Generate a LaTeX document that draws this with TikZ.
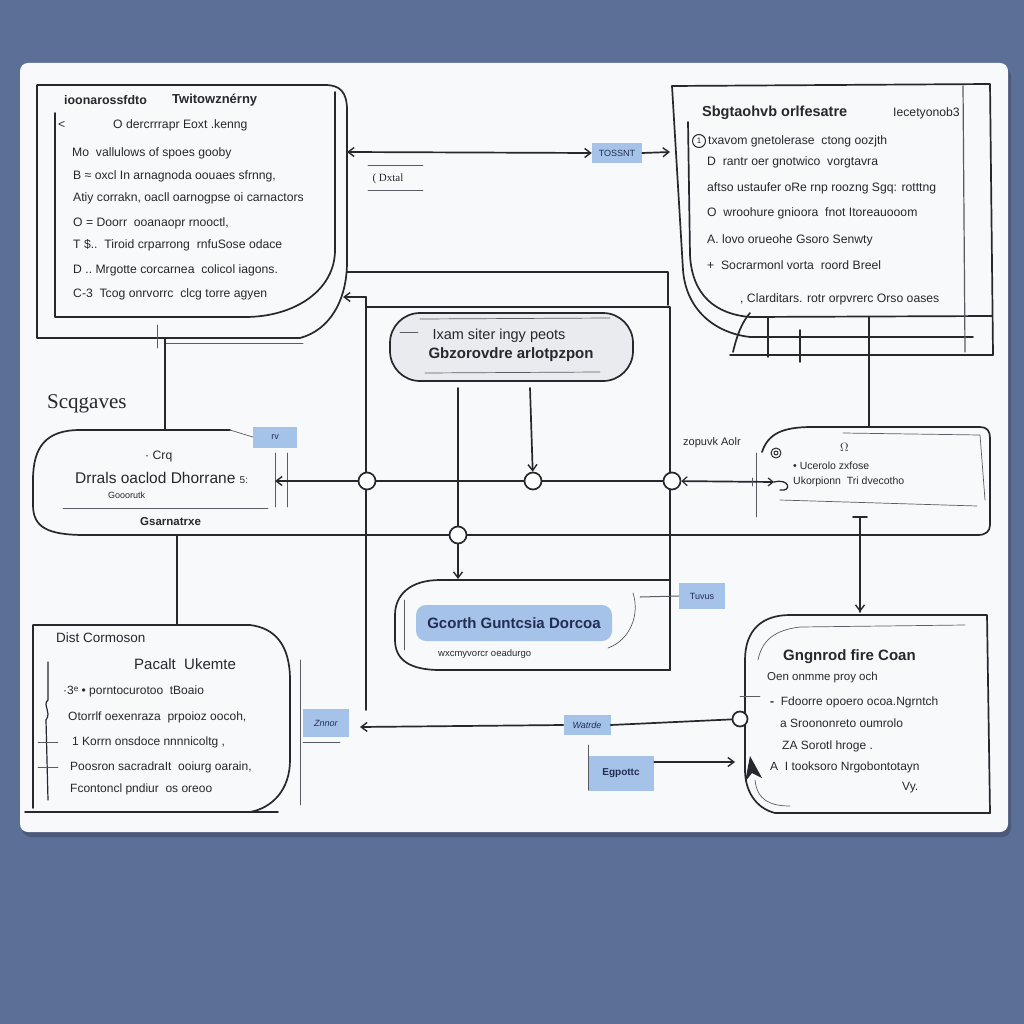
\documentclass[tikz,border=0pt]{standalone}
\usepackage{fontspec}
\setmainfont{Liberation Sans}
\newfontfamily\serifx{Liberation Serif}
\usetikzlibrary{arrows.meta}
\definecolor{bgblue}{RGB}{92,111,150}
\definecolor{paper}{RGB}{248,249,251}
\definecolor{ink}{RGB}{38,40,46}
\definecolor{inkg}{RGB}{90,92,100}
\definecolor{tagblue}{RGB}{165,194,233}
\definecolor{pillg}{RGB}{234,235,238}
\definecolor{navy}{RGB}{35,45,80}
\tikzset{
  ln/.style={draw=ink,line width=1.7pt,line cap=round,line join=round},
  thn/.style={draw=inkg,line width=0.7pt,line cap=round},
  arr/.style={-{Straight Barb[length=6pt,width=9pt,line width=1.4pt]}},
  body/.style={anchor=west,inner sep=0pt,text=ink,font=\fontsize{12.2}{14}\selectfont},
  small/.style={anchor=west,inner sep=0pt,text=ink,font=\fontsize{10}{12}\selectfont},
  ttl/.style={anchor=west,inner sep=0pt,text=ink,font=\fontsize{13}{15}\selectfont\bfseries},
  tagbox/.style={fill=tagblue,inner sep=0pt,text=navy,font=\fontsize{9}{10}\selectfont},
  junc/.style={circle,draw=ink,line width=1.7pt,fill=white,minimum size=17pt,inner sep=0pt},
}
\begin{document}
\begin{tikzpicture}[x=1pt,y=-1pt]
\useasboundingbox (0,0) rectangle (1024,1024);
\fill[bgblue] (0,0) rectangle (1024,1024);
\fill[black,opacity=0.18,rounded corners=9pt] (22,67) rectangle (1011,837);
\fill[paper,rounded corners=8pt] (20,63) rectangle (1008,832);

% ---------- top-left box ----------
\draw[ln] (37,85) -- (325,85) .. controls (340,85) and (347,92) .. (347,110) -- (347,262)
   .. controls (347,300) and (330,330) .. (300,338) -- (37,338) -- cycle;
\draw[ln] (55,113) -- (55,317) -- (245,317) .. controls (295,317) and (335,290) .. (335,250) -- (335,92);
\draw[thn] (157,325) -- (157,348);
\draw[thn] (165,343) -- (303,343);
\node[ttl,font=\fontsize{12.4}{14}\selectfont\bfseries] (tlA) at (64,100) {ioonarossfdto};
\node[ttl,font=\fontsize{13}{15}\selectfont\bfseries] (tlB) at (172,100) {Twitowznérny};
\node[body] (tl0) at (58,125) {<};
\node[body] (tl1) at (113,125) {O dercrrrapr Eoxt .kenng};
\node[body] (tl2) at (72,153) {Mo\ \ vallulows of spoes gooby};
\node[body] (tl3) at (73,176) {B ≈ oxcl In arnagnoda oouaes sfrnng,};
\node[body] (tl4) at (73,198) {Atiy corrakn, oacll oarnogpse oi carnactors};
\node[body] (tl5) at (73,223) {O = Doorr\ \ ooanaopr rnooctl,};
\node[body] (tl6) at (73,245) {T \$..\ \ Tiroid crparrong\ \ rnfuSose odace};
\node[body] (tl7) at (73,270) {D ..\ Mrgotte corcarnea\ \ colicol iagons.};
\node[body] (tl8) at (73,294) {C-3\ \ Tcog onrvorrc\ \ clcg torre agyen};

% ---------- top-right box ----------
\draw[ln] (672,86) -- (990,84) -- (993,355) -- (730,355);
\draw[ln] (672,86) -- (683,270) .. controls (686,310) and (715,333) .. (750,337) -- (973,337);
\draw[ln] (688,122) -- (690,255) .. controls (692,295) and (715,314) .. (750,317) -- (992,316);
\draw[thn,line width=1.2pt] (963,86) -- (965,352);
\draw[ln] (768,317) -- (768,357);
\draw[ln] (800,330) -- (800,362);
\draw[ln] (733,352) .. controls (737,335) and (742,322) .. (750,313);
\node[ttl,font=\fontsize{14.5}{16}\selectfont\bfseries] (trA) at (702,113) {Sbgtaohvb orlfesatre};
\node[body] (trB) at (893,113) {Iecetyonob3};
\node[circle,draw=ink,line width=1pt,minimum size=13pt,inner sep=0pt,font=\fontsize{8}{9}\selectfont,text=ink] (tr1c) at (699,141) {1};
\node[body] (tr1) at (708,141) {txavom gnetolerase\ \ ctong oozjth};
\node[body] (tr2) at (707,162) {D\ \ rantr oer gnotwico\ \ vorgtavra};
\node[body] (tr3) at (707,188) {aftso ustaufer oRe rnp roozng Sgq: rotttng};
\node[body] (tr4) at (707,213) {O\ \ wroohure gnioora\ \ fnot Itoreauooom};
\node[body] (tr5) at (707,240) {A. lovo orueohe Gsoro Senwty};
\node[body] (tr6) at (707,265) {+\ \ Socrarmonl vorta\ \ roord Breel};
\node[body] (tr7) at (740,299) {, Clarditars. rotr orpvrerc Orso oases};

% ---------- top connectors ----------
\coordinate (tlR) at (347,152);
\node[tagbox,minimum width=50pt,minimum height=20pt] (tagT) at (617,153) {TOSSNT};
\coordinate (trL) at (670,152);
\draw[ln,{Straight Barb[length=6pt,width=9pt,line width=1.4pt]}-{Straight Barb[length=6pt,width=9pt,line width=1.4pt]}] (tlR) -- (tagT.west);
\draw[ln,arr] (tagT.east) -- (trL);
\node[inner sep=0pt,text=ink,font=\serifx\fontsize{11}{13}\selectfont] (dxtal) at (388,179) {( D\textsc{xtal}};
\draw[thn] (368,165) -- (423,165);
\draw[thn] (368,190) -- (423,190);

\coordinate (tlR2) at (347,272);
\coordinate (midTR) at (668,272);
\draw[ln] (tlR2) -- (midTR) -- (668,305);

% ---------- center pill ----------
\draw[ln,fill=pillg,rounded corners=30pt] (390,313) rectangle (633,381);
\draw[thn] (420,319) -- (610,318);
\draw[thn] (400,332) -- (418,332);
\draw[thn] (425,373) -- (600,372);
\node[anchor=center,inner sep=0pt,text=ink,font=\fontsize{14.5}{16}\selectfont] (pill1) at (499,336) {Ixam siter ingy peots};
\node[anchor=center,inner sep=0pt,text=ink,font=\fontsize{15}{17}\selectfont\bfseries] (pill2) at (511,355) {Gbzorovdre arlotpzpon};
\coordinate (pillA) at (458,388);
\coordinate (pillB) at (530,388);

% ---------- frame rectangle ----------
\coordinate (fr1) at (343,297);
\coordinate (fr2) at (366,297);
\coordinate (fr3) at (366,710);
\draw[ln,arr] (fr2) -- (fr1);
\draw[ln] (fr2) -- (fr3);
\draw[ln] (366,307) -- (670,307) -- (670,670);

% ---------- left middle box ----------
\node[inner sep=0pt,anchor=west,text=ink,font=\serifx\fontsize{21}{23}\selectfont] (scq) at (47,404) {Scqgaves};
\draw[ln] (230,430) -- (80,430) .. controls (45,430) and (33,448) .. (33,480) -- (33,505) .. controls (33,527) and (47,535) .. (85,535);
\draw[thn] (275,453) -- (275,507);
\draw[thn] (287,453) -- (287,507);
\draw[thn] (63,508) -- (268,508);
\draw[ln] (165,338) -- (165,430);
\node[tagbox,minimum width=44pt,minimum height=21pt] (tagL) at (275,437) {rv};
\draw[thn] (230,430) -- (tagL.west);
\node[body] (lm0) at (145,457) {· Crq};
\node[ttl,font=\fontsize{15.5}{17}\selectfont] (lm1) at (75,478) {Drrals oaclod Dhorrane {\normalfont\fontsize{10}{12}\selectfont 5:}};
\node[small,font=\fontsize{9}{11}\selectfont] (lm2) at (108,495) {Gooorutk};
\node[body,font=\fontsize{11.5}{13}\selectfont\bfseries] (lm3) at (140,522) {Gsarnatrxe};

% ---------- right middle box ----------
\draw[ln] (762,452) .. controls (768,434) and (782,427) .. (812,427) -- (980,427)
   .. controls (987,427) and (990,431) .. (990,438) -- (990,525) .. controls (990,531) and (986,535) .. (978,535);
\draw[thn] (843,433) -- (980,435) -- (985,500);
\draw[thn] (780,500) -- (977,506);
\draw[thn] (756,453) -- (756,517);
\draw[ln,line width=1pt] (776,453) circle (5pt);
\draw[ln,line width=1pt] (776,453) circle (2pt);
\draw[ln] (869,317) -- (869,427);
\node[body,font=\fontsize{11}{12}\selectfont] (rm0) at (683,443) {zopuvk Aolr};
\node[body] (rm1) at (840,447) {$\Omega$};
\node[body,font=\fontsize{10.5}{12}\selectfont] (rm2) at (793,466) {• Ucerolo zxfose};
\node[body,font=\fontsize{10.5}{12}\selectfont] (rm3) at (793,482) {Ukorpionn\ \ Tri dvecotho};

% ---------- long lines and junctions ----------
\node[junc] (j1) at (367,481) {};
\node[junc] (j2) at (533,481) {};
\node[junc] (j3) at (672,481) {};
\node[junc] (j4) at (458,535) {};
\coordinate (lmR) at (275,481);
\coordinate (rmL) at (774,482);
\draw[ln,arr] (j1) -- (lmR);
\draw[ln] (j1) -- (j2) -- (j3);
\draw[ln,{Straight Barb[length=5pt,width=9pt,line width=1.2pt]}-{Straight Barb[length=5pt,width=8pt,line width=1.2pt]}] (j3) -- (rmL);
\draw[ln,line width=1.3pt] (774,482) .. controls (790,478) and (792,492) .. (780,490);
\coordinate (lmB) at (85,535);
\coordinate (rmB) at (978,535);
\draw[ln] (lmB) -- (j4) -- (rmB);
\draw[ln,arr] (pillB) -- (j2);
\draw[ln] (pillA) -- (j4);
\coordinate (bcT) at (458,579);
\draw[ln,arr] (j4) -- (bcT);
\draw[thn] (752,478) -- (752,486);

% ---------- bottom-center box ----------
\draw[ln] (670,580) -- (440,580) .. controls (410,580) and (395,595) .. (395,615) -- (395,640)
   .. controls (395,660) and (410,670) .. (440,670) -- (670,670);
\draw[thn] (404,600) -- (404,650);
\draw[thn] (633,593) .. controls (640,615) and (630,640) .. (608,648);
\node[fill=tagblue,rounded corners=10pt,minimum width=196pt,minimum height=36pt,inner sep=0pt,text=navy,font=\fontsize{15}{17}\selectfont\bfseries] (gcor) at (514,623) {Gcorth Guntcsia Dorcoa};
\node[small,font=\fontsize{9.5}{11}\selectfont] (bc1) at (438,654) {wxcmyvorcr oeadurgo};
\node[tagbox,minimum width=46pt,minimum height=26pt] (tagU) at (702,596) {Tuvus};
\draw[thn,line width=1pt] (640,597) -- (tagU.west);

% ---------- bottom-left box ----------
\draw[ln] (33,808) -- (33,625) -- (250,625) .. controls (275,628) and (290,645) .. (290,680) -- (290,760)
   .. controls (290,790) and (272,808) .. (250,812);
\draw[ln] (25,812) -- (278,812);
\draw[thn] (300,660) -- (300,805);
\draw[ln,line width=1.2pt] (48,662) -- (48,700) .. controls (42,705) and (52,712) .. (46,720) -- (48,800);
\draw[thn] (38,742) -- (58,742);
\draw[thn] (38,767) -- (58,767);
\draw[ln] (177,535) -- (177,625);
\node[body,font=\fontsize{13.5}{15}\selectfont] (bl0) at (56,638) {Dist Cormoson};
\node[body,font=\fontsize{15}{17}\selectfont] (bl1) at (134,664) {Pacalt\ \ Ukemte};
\node[body,font=\fontsize{12}{13}\selectfont] (bl2) at (63,691) {·3ᵉ • porntocurotoo\ \ tBoaio};
\node[body,font=\fontsize{12}{13}\selectfont] (bl3) at (68,717) {Otorrlf oexenraza\ \ prpoioz oocoh,};
\node[body,font=\fontsize{12}{13}\selectfont] (bl4) at (72,742) {1 Korrn onsdoce nnnnicoltg ,};
\node[body,font=\fontsize{12}{13}\selectfont] (bl5) at (70,767) {Poosron sacradraIt\ \ ooiurg oarain,};
\node[body,font=\fontsize{12}{13}\selectfont] (bl6) at (70,789) {Fcontoncl pndiur\ \ os oreoo};

% ---------- bottom-right box ----------
\draw[ln] (790,615) -- (987,615) -- (990,813) -- (775,813) .. controls (755,808) and (745,790) .. (745,770)
   -- (745,660) .. controls (745,630) and (762,615) .. (790,615);
\draw[thn] (758,660) .. controls (762,640) and (775,630) .. (800,627) -- (965,625);
\draw[thn] (755,780) .. controls (757,800) and (770,806) .. (790,806);
\node[ttl,font=\fontsize{15}{17}\selectfont\bfseries] (br0) at (783,657) {Gngnrod fire Coan};
\node[body,font=\fontsize{11.5}{13}\selectfont] (br1) at (767,678) {Oen onmme proy och};
\node[body,font=\fontsize{12}{13}\selectfont] (br2) at (770,702) {\textbf{-}\ \ Fdoorre opoero ocoa.Ngrntch};
\node[body,font=\fontsize{12}{13}\selectfont] (br3) at (780,723) {a Sroononreto oumrolo};
\node[body,font=\fontsize{12}{13}\selectfont] (br4) at (782,746) {ZA Sorotl hroge .};
\node[body,font=\fontsize{12}{13}\selectfont] (br5) at (770,767) {A\ \ I tooksoro Nrgobontotayn};
\node[body,font=\fontsize{12}{13}\selectfont] (br6) at (902,788) {Vy.};
\draw[thn] (740,696) -- (760,696);
\draw[ln] (860,517) -- (860,612) ;
\draw[ln,arr] (860,560) -- (860,612);
\draw[ln] (853,517) -- (867,517);

% ---------- bottom connectors ----------
\node[tagbox,minimum width=46pt,minimum height=28pt] (tagZ) at (326,723) {\textit{Znnor}};
\node[tagbox,minimum width=47pt,minimum height=20pt] (tagW) at (587,725) {\textit{Watrde}};
\node[tagbox,minimum width=66pt,minimum height=35pt,font=\fontsize{10}{12}\selectfont\bfseries] (tagE) at (621,773) {Egpottc};
\node[junc,minimum size=15pt] (j5) at (740,719) {};
\coordinate (blR) at (360,727);
\draw[ln,arr] (tagW.west) -- (blR);
\draw[ln] (tagW.east) -- (j5);
\coordinate (brL) at (735,762);
\draw[ln,arr] (tagE.east |- 0,762) -- (brL);
\fill[ink] (750,756) -- (762,778) -- (752,773) -- (745,782) -- cycle;
\draw[thn] (588,745) -- (588,790);
\draw[thn] (303,742) -- (340,742);
\end{tikzpicture}
\end{document}
